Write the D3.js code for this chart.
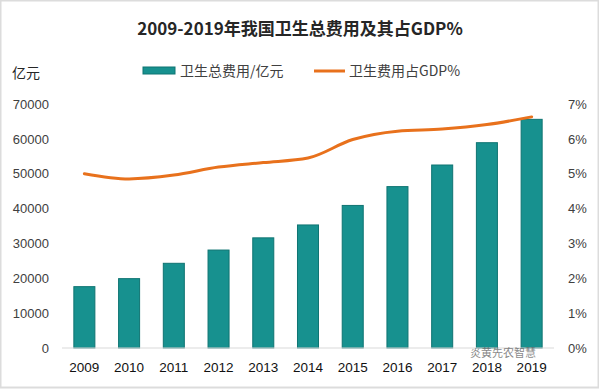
<!DOCTYPE html>
<html>
<head>
<meta charset="utf-8">
<script src="https://cdn.jsdelivr.net/npm/d3@7"></script>
<style>
  body { margin: 0; background: #fff; }
  text { font-family: "Noto Sans CJK SC", "Noto Sans", sans-serif; }
</style>
</head>
<body>
<div id="chart"></div>
<script>
			//Width and height
			var w = 599;
			var h = 391;

			//Data
			var years = ["2009","2010","2011","2012","2013","2014","2015","2016","2017","2018","2019"];
			var spending = [17600, 19900, 24300, 28100, 31600, 35300, 40900, 46300, 52500, 58900, 65600];
			var gdpShare = [5.0, 4.85, 4.96, 5.19, 5.32, 5.45, 5.98, 6.22, 6.28, 6.41, 6.63];
			var leftTicks = [0, 10000, 20000, 30000, 40000, 50000, 60000, 70000];
			var rightTicks = [0, 1, 2, 3, 4, 5, 6, 7];

			var margin = {top: 104, right: 45, bottom: 43, left: 62};
			var iw = w - margin.left - margin.right;
			var ih = h - margin.top - margin.bottom;

			var svg = d3.select("#chart")
						.append("svg")
						.attr("width", w)
						.attr("height", h);

			// light frame round the picture
			svg.append("rect")
				.attr("x", 0.5).attr("y", 0.5)
				.attr("width", w - 1).attr("height", h - 4)
				.attr("fill", "none")
				.attr("stroke", "#dcdcdc")
				.attr("stroke-width", 2);

			var g = svg.append("g")
				.attr("transform", "translate(" + margin.left + "," + margin.top + ")");

			//Set up scales
			var xScale = d3.scaleBand()
				.domain(years)
				.range([0, iw])
				.paddingInner(0.53)
				.paddingOuter(0.265);

			var yScale = d3.scaleLinear()
				.domain([0, 70000])
				.range([ih, 0]);

			var yScale2 = d3.scaleLinear()
				.domain([0, 7])
				.range([ih, 0]);

			// bars
			g.selectAll("rect.bar")
				.data(spending)
				.enter()
				.append("rect")
				.attr("class", "bar")
				.attr("x", function(d, i) { return xScale(years[i]); })
				.attr("y", function(d) { return yScale(d); })
				.attr("width", xScale.bandwidth())
				.attr("height", function(d) { return ih - yScale(d); })
				.attr("fill", "#17918f")
				.attr("stroke", "#0f7472")
				.attr("stroke-width", 1);

			// baseline
			g.append("line")
				.attr("x1", 0).attr("x2", iw)
				.attr("y1", ih).attr("y2", ih)
				.attr("stroke", "#d9d9d9")
				.attr("stroke-width", 1);

			// line
			var line = d3.line()
				.x(function(d, i) { return xScale(years[i]) + xScale.bandwidth() / 2; })
				.y(function(d) { return yScale2(d); })
				.curve(d3.curveMonotoneX);

			g.append("path")
				.datum(gdpShare)
				.attr("d", line)
				.attr("fill", "none")
				.attr("stroke", "#e8711c")
				.attr("stroke-width", 3)
				.attr("stroke-linecap", "round");

			// axes
			var yAxis = d3.axisLeft(yScale).tickValues(leftTicks).tickSize(0).tickPadding(13)
				.tickFormat(d3.format("d"));
			var yAxis2 = d3.axisRight(yScale2).tickValues(rightTicks).tickSize(0).tickPadding(14)
				.tickFormat(function(d) { return d + "%"; });
			var xAxis = d3.axisBottom(xScale).tickSize(0).tickPadding(14);

			var ya = g.append("g").call(yAxis);
			var ya2 = g.append("g").attr("transform", "translate(" + iw + ",0)").call(yAxis2);
			var xa = g.append("g").attr("transform", "translate(0," + ih + ")").call(xAxis);

			[ya, ya2, xa].forEach(function(a) {
				a.select(".domain").remove();
				a.selectAll("text")
					.style("font-family", "'Liberation Sans', sans-serif")
					.style("font-size", "13px")
					.attr("fill", "#404040");
			});
			xa.selectAll("text").attr("fill", "#111").style("font-size", "13.5px");

			// title
			svg.append("text")
				.attr("x", 300)
				.attr("y", 35)
				.attr("text-anchor", "middle")
				.attr("font-size", 17)
				.attr("font-weight", "bold")
				.attr("fill", "#262626")
				.text("2009-2019年我国卫生总费用及其占GDP%");

			// unit
			svg.append("text")
				.attr("x", 12)
				.attr("y", 78)
				.attr("font-size", 14)
				.attr("fill", "#262626")
				.text("亿元");

			// legend
			var legend = svg.append("g");
			legend.append("rect")
				.attr("x", 143).attr("y", 67)
				.attr("width", 32).attr("height", 7)
				.attr("fill", "#17918f")
				.attr("stroke", "#0f7472");
			legend.append("text")
				.attr("x", 180).attr("y", 76)
				.attr("font-size", 14)
				.attr("fill", "#404040")
				.text("卫生总费用/亿元");
			legend.append("line")
				.attr("x1", 314).attr("x2", 345)
				.attr("y1", 71).attr("y2", 71)
				.attr("stroke", "#e8711c")
				.attr("stroke-width", 3);
			legend.append("text")
				.attr("x", 349).attr("y", 76)
				.attr("font-size", 14)
				.attr("fill", "#404040")
				.text("卫生费用占GDP%");

			// watermark, kept clear of the year labels and the 0% tick
			svg.append("text")
				.attr("x", 470)
				.attr("y", 357)
				.attr("font-size", 11)
				.attr("fill", "#555")
				.attr("opacity", 0.7)
				.text("炎黄先农智慧");
</script>
</body>
</html>
